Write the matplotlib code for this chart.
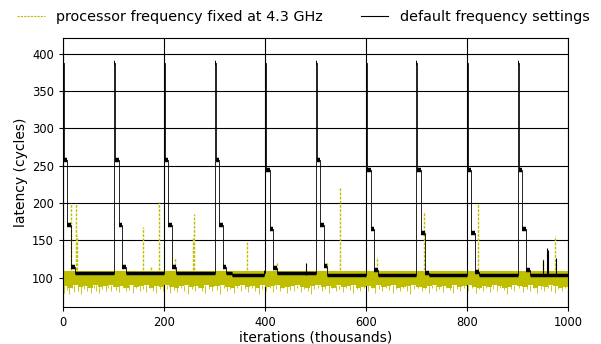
import matplotlib
matplotlib.use('Agg')
from matplotlib import pyplot as plt
from matplotlib.lines import Line2D

# iterations are in thousands, latency in cycles

# default frequency settings: step trace, value holds until next x
default_x = [0, 1.5, 7, 15, 24,
             101, 103, 110, 116, 125,
             200, 202, 208, 215, 223,
             301, 303, 309, 316, 323, 334, 398,
             400, 401, 403, 409, 416, 424,
             501, 503, 509, 516, 523,
             600, 602, 609, 616, 624,
             700, 702, 709, 717, 724,
             801, 803, 809, 816, 824,
             901, 903, 910, 917, 924, 1000]
default_y = [388, 258, 171, 115, 106.5,
             388, 258, 171, 115, 106.5,
             388, 258, 171, 115, 106.5,
             388, 258, 171, 115, 106.5, 104, 106.5,
             404, 388, 245, 165, 113, 106.5,
             388, 258, 171, 116, 104,
             388, 244, 165, 110, 104,
             388, 244, 160, 107, 104,
             388, 244, 160, 108, 104,
             388, 244, 165, 110, 104, 104]
# short isolated spikes of the default trace
default_spike_x = [482, 951, 958, 961, 976]
default_spike_y = [120, 124, 140, 137, 127]

# fixed 4.3 GHz: dense noisy band, lower edge every 10k
fixed_band_x = list(range(0, 1001, 10))
fixed_band_lo = [89, 87, 90, 88, 89, 87, 90, 88, 89, 90,
                 88, 89, 87, 90, 88, 89, 90, 87, 89, 88,
                 90, 88, 87, 89, 90, 88, 89, 87, 90, 88,
                 89, 90, 88, 87, 89, 90, 88, 89, 87, 90,
                 88, 89, 90, 87, 88, 89, 90, 88, 87, 89,
                 90, 88, 89, 87, 90, 88, 89, 90, 87, 88,
                 89, 87, 90, 88, 89, 90, 87, 88, 89, 90,
                 88, 87, 89, 90, 88, 89, 87, 90, 88, 89,
                 90, 88, 87, 89, 88, 90, 89, 87, 88, 90,
                 89, 88, 90, 87, 89, 88, 90, 89, 87, 88, 89]
fixed_band_hi = 109
# upward outliers
fixed_spike_x = [15, 25, 28, 159, 174, 190, 222, 257, 260, 364, 423,
                 522, 548.5, 621, 715, 821, 951, 974]
fixed_spike_y = [200, 200, 156, 168, 116, 201, 127, 153, 185, 148, 120,
                 121, 221, 128, 188, 199, 125, 156]
# downward dips of the band
fixed_dip_x = [3, 8, 12, 18, 22, 30, 35, 42, 47, 55, 61, 66, 72, 78, 85, 90, 96,
               104, 110, 118, 124, 131, 138, 145, 152, 158, 165, 172, 178, 185, 192, 198,
               206, 211, 219, 226, 233, 240, 247, 255, 262, 268, 275, 282, 290, 296,
               305, 311, 318, 324, 331, 338, 345, 352, 360, 367, 374, 381, 388, 394,
               403, 409, 415, 422, 429, 436, 443, 450, 457, 464, 471, 478, 485, 492, 498,
               505, 512, 519, 526, 533, 540, 547, 554, 561, 568, 575, 582, 589, 596,
               604, 611, 618, 625, 632, 639, 646, 653, 660, 667, 674, 681, 688, 695,
               703, 710, 717, 724, 731, 738, 745, 752, 759, 766, 773, 780, 787, 794,
               803, 810, 817, 824, 831, 838, 845, 852, 859, 866, 873, 880, 887, 894,
               904, 911, 918, 925, 932, 939, 946, 953, 960, 967, 974, 981, 988, 995]
fixed_dip_y = [80, 84, 79, 86, 81, 83, 79, 85, 82, 80, 86, 83, 80, 85, 82, 86, 83,
               84, 81, 86, 82, 84, 80, 86, 83, 85, 81, 86, 83, 80, 85, 82,
               85, 80, 84, 81, 86, 83, 79, 85, 82, 86, 83, 80, 85, 83,
               84, 79, 86, 82, 85, 80, 86, 83, 85, 81, 86, 83, 79, 85,
               83, 86, 81, 85, 82, 86, 80, 84, 82, 86, 81, 85, 83, 79, 85,
               86, 82, 85, 80, 86, 83, 85, 81, 86, 84, 80, 85, 82, 86,
               83, 86, 80, 85, 82, 86, 84, 80, 85, 82, 86, 83, 79, 85,
               86, 82, 85, 80, 86, 83, 85, 81, 86, 84, 80, 85, 82, 86,
               82, 86, 80, 85, 83, 86, 81, 85, 82, 86, 84, 79, 85, 82,
               86, 81, 85, 83, 86, 80, 85, 82, 86, 83, 80, 85, 82, 86]

fig = plt.figure(figsize=(6.01, 3.44), dpi=100)
ax = fig.add_axes([0.1048, 0.1076, 0.8402, 0.7819])

yel = 'y'
ax.fill_between(fixed_band_x, fixed_band_lo, fixed_band_hi, step='post',
                color=yel, lw=0, zorder=2)
ax.vlines(fixed_dip_x, fixed_dip_y, 91, colors=yel, lw=0.6, zorder=2)
ax.vlines(fixed_spike_x, 105, fixed_spike_y, colors=yel, lw=1.0,
          linestyles=(0, (2, 1)), zorder=2)

ax.plot(default_x, default_y, color='k', lw=0.6, drawstyle='steps-post', zorder=3)
# noisy plateaus look like thick blocks
for i in range(len(default_x) - 1):
    x0, x1, y0 = default_x[i], default_x[i + 1], default_y[i]
    ax.plot([x0, x1], [y0, y0], color='k', lw=2.5 if x1 - x0 >= 10 else 3.2,
            solid_capstyle='butt', zorder=3)
ax.vlines(default_spike_x, 104, default_spike_y, colors='k', lw=0.8, zorder=3)

ax.set_xlim(0, 1000)
ax.set_ylim(61, 421)
ax.set_xticks(range(0, 1001, 200))
ax.set_yticks(range(100, 401, 50))
ax.grid(True, color='k', lw=0.8, zorder=1)
ax.set_axisbelow(True)
ax.tick_params(labelsize=8.3, direction='out', length=3)
ax.set_xlabel('iterations (thousands)', fontsize=10, labelpad=1)
ax.set_ylabel('latency (cycles)', fontsize=10, labelpad=3)

handles = [Line2D([], [], color=yel, lw=0.8, ls=(0, (2, 1))),
           Line2D([], [], color='k', lw=0.8)]
fig.legend(handles, ['processor frequency fixed at 4.3 GHz', 'default frequency settings'],
           loc='upper center', bbox_to_anchor=(0.505, 1.01), ncol=2, frameon=False,
           fontsize=10.4, columnspacing=2.6, handlelength=1.9)

fig.savefig('out.png', dpi=100)
